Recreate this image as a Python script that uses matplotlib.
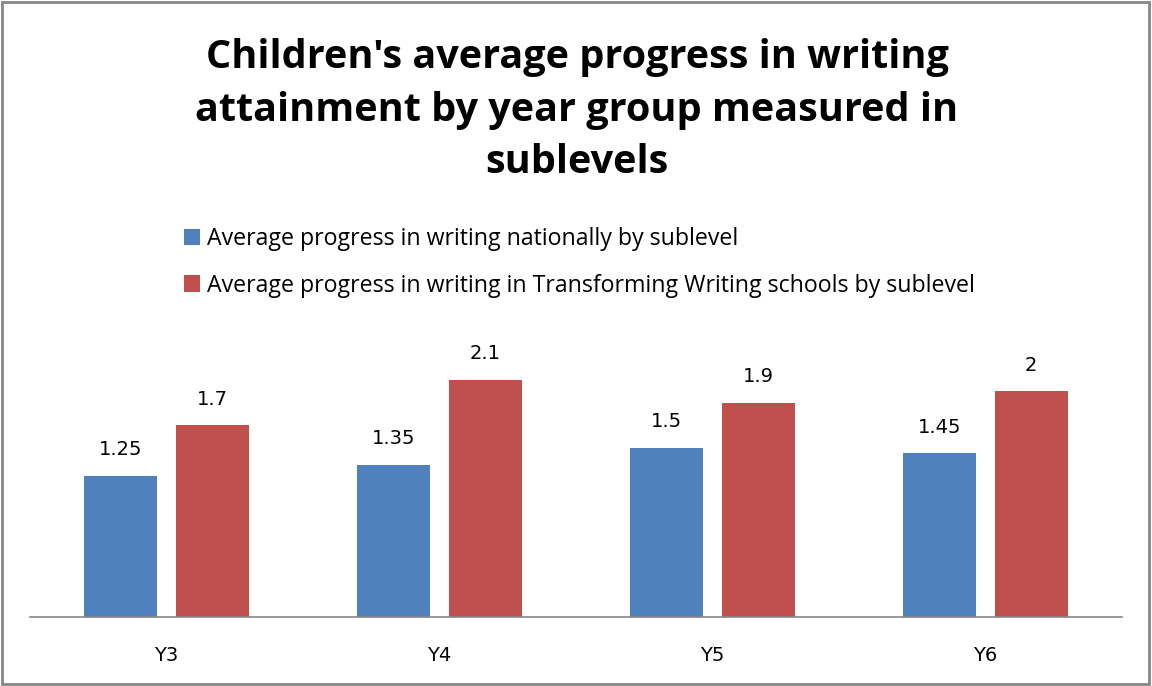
import matplotlib
matplotlib.use("Agg")
import matplotlib.pyplot as plt
from matplotlib.patches import Rectangle
import numpy as np

years = ["Y3", "Y4", "Y5", "Y6"]
national = [1.25, 1.35, 1.5, 1.45]
tw_schools = [1.7, 2.1, 1.9, 2.0]
national_label = ["1.25", "1.35", "1.5", "1.45"]
tw_label = ["1.7", "2.1", "1.9", "2"]
series_names = ["Average progress in writing nationally by sublevel",
                "Average progress in writing in Transforming Writing schools by sublevel"]

BLUE = "#4f81bd"
RED = "#c0504d"
W, H = 1152, 686

fig = plt.figure(figsize=(W / 100, H / 100), dpi=100)
# plot area in pixels: x 30..1122, baseline at 617
ax = fig.add_axes([30 / W, (H - 617) / H, 1092 / W, (617 - 335) / H])

x = np.arange(len(years))
bw, off = 0.267, 0.167
b1 = ax.bar(x - off, national, bw, color=BLUE, label=series_names[0])
b2 = ax.bar(x + off, tw_schools, bw, color=RED, label=series_names[1])

for bars, labels in ((b1, national_label), (b2, tw_label)):
    for r, lbl in zip(bars, labels):
        ax.annotate(lbl, (r.get_x() + r.get_width() / 2, r.get_height()),
                    xytext=(0, 12), textcoords="offset points",
                    ha="center", va="bottom", fontsize=14, family="DejaVu Sans")

ax.set_xlim(-0.5, len(years) - 0.5)
ax.set_ylim(0, 2.5)
ax.set_xticks(x)
ax.set_xticklabels(years, fontsize=14, family="DejaVu Sans")
ax.tick_params(axis="x", length=0, pad=21)
ax.set_yticks([])
for s in ("top", "right", "left"):
    ax.spines[s].set_visible(False)
ax.spines["bottom"].set_color("#868686")
ax.spines["bottom"].set_linewidth(1.2)

fig.text(577 / W, 1 - 110 / H,
         "Children's average progress in writing\nattainment by year group measured in\nsublevels",
         ha="center", va="center", fontsize=28.5, fontweight="bold", family="Open Sans",
         linespacing=1.45)

fig.legend(handles=[b1, b2], loc="upper left", bbox_to_anchor=(163 / W, 1 - 206 / H),
           frameon=False, prop={"family": "Open Sans", "size": 16.7},
           handlelength=0.7, handleheight=0.7, handletextpad=0.3, labelspacing=0.98)

fig.patches.append(Rectangle((2 / W, 2 / H), 1147 / W, 682 / H, transform=fig.transFigure,
                             fill=False, edgecolor="#868686", linewidth=2))

fig.savefig("out.png", dpi=100)
